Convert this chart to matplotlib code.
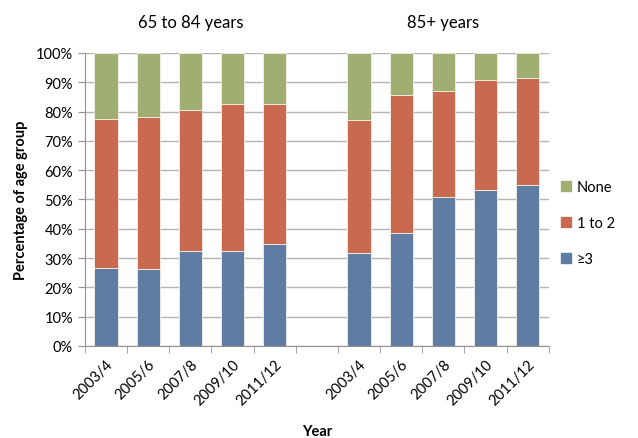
import matplotlib
matplotlib.use("Agg")
import matplotlib.pyplot as plt
import numpy as np

plt.rcParams["font.family"] = ["Lato", "DejaVu Sans"]

years = ["2003/4", "2005/6", "2007/8", "2009/10", "2011/12"]
groups = ["65 to 84 years", "85+ years"]

# shares per group (percent)
three_plus = {"65 to 84 years": [26.6, 26.3, 32.4, 32.5, 34.7],
              "85+ years": [31.7, 38.6, 50.9, 53.4, 55.1]}
one_to_two = {"65 to 84 years": [50.9, 52.0, 48.0, 50.2, 47.8],
              "85+ years": [45.4, 47.2, 36.0, 37.3, 36.5]}
none_ = {"65 to 84 years": [22.5, 21.7, 19.6, 17.3, 17.5],
         "85+ years": [22.9, 14.2, 13.1, 9.3, 8.4]}

c_blue = "#5F7CA3"
c_red = "#C96A50"
c_green = "#A1AE72"

fig = plt.figure(figsize=(6.38, 4.39), dpi=100)
ax = fig.add_axes([0.133, 0.2096, 0.727, 0.6674])

positions = {"65 to 84 years": np.arange(5), "85+ years": np.arange(5) + 6}
width = 0.55
for g in groups:
    x = positions[g]
    b = np.array(three_plus[g])
    r = np.array(one_to_two[g])
    n = np.array(none_[g])
    ax.bar(x, b, width, color=c_blue, edgecolor="#f4f0e6", linewidth=0.6, zorder=3)
    ax.bar(x, r, width, bottom=b, color=c_red, edgecolor="#f4f0e6", linewidth=0.6, zorder=3)
    ax.bar(x, n, width, bottom=b + r, color=c_green, edgecolor="#f4f0e6", linewidth=0.6, zorder=3)

ax.set_xlim(-0.5, 10.5)
ax.set_ylim(0, 100)
ax.set_yticks(np.arange(0, 101, 10))
ax.set_yticklabels([f"{v}%" for v in range(0, 101, 10)], fontsize=10.5)
ax.yaxis.grid(True, color="#b8b2b2", linewidth=1.0, zorder=0)
ax.set_axisbelow(True)

centers = np.concatenate([positions[g] for g in groups])
ax.set_xticks(centers)
ax.set_xticklabels(years * 2, rotation=45, ha="right", rotation_mode="anchor", fontsize=10.5)
ax.set_xticks(np.arange(-0.5, 11, 1), minor=True)
ax.tick_params(axis="x", which="major", length=0, pad=8)
ax.tick_params(axis="x", which="minor", length=5, color="#9a8f8f")
ax.tick_params(axis="y", length=5, color="#9a8f8f")

for s in ["top", "right"]:
    ax.spines[s].set_visible(False)
for s in ["left", "bottom"]:
    ax.spines[s].set_color("#9a8f8f")

ax.set_ylabel("Percentage of age group", fontsize=10.5, fontweight="bold", labelpad=6)
ax.set_xlabel("Year", fontsize=10.5, fontweight="bold", labelpad=12)

for g in groups:
    ax.text(positions[g].mean(), 1.08, g, transform=ax.get_xaxis_transform(),
            ha="center", va="bottom", fontsize=12)

handles = [plt.Rectangle((0, 0), 1, 1, color=c) for c in (c_green, c_red, c_blue)]
fig.legend(handles, ["None", "1 to 2", "\u22653"], loc="center left",
           bbox_to_anchor=(0.858, 0.49), frameon=False, fontsize=10.5,
           handlelength=0.7, handleheight=0.7, labelspacing=1.5, handletextpad=0.4)

fig.savefig("out.png", dpi=100)
